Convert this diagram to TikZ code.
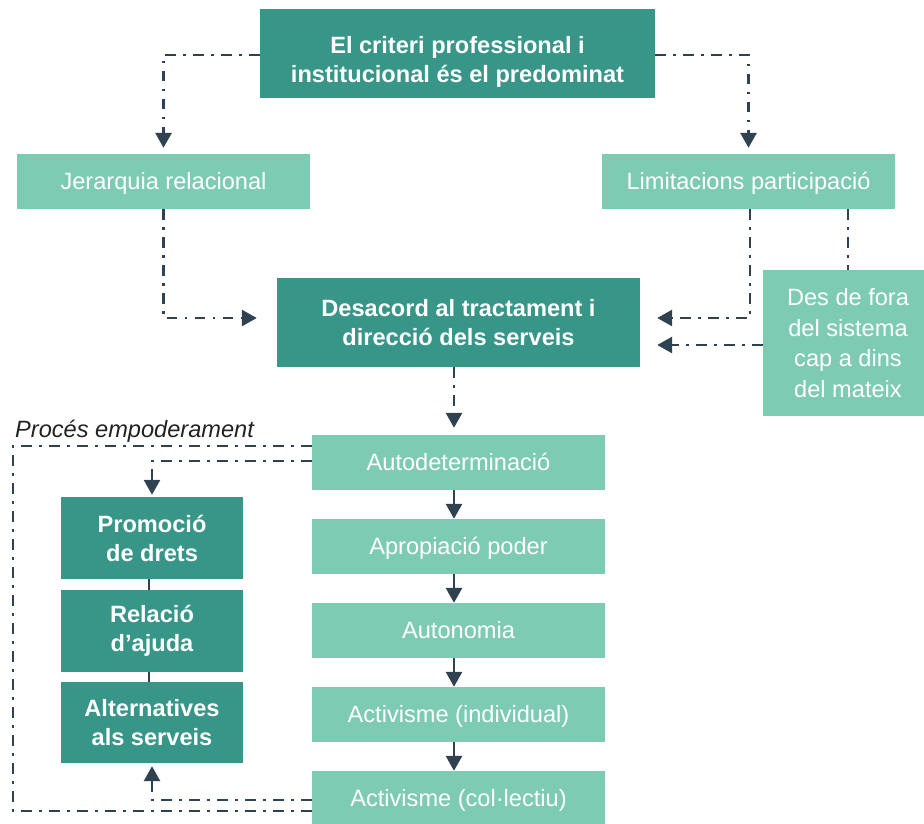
\documentclass[tikz,border=0pt]{standalone}
\usepackage{fontspec}
\setmainfont{Liberation Sans}
\usetikzlibrary{arrows.meta}
\definecolor{dk}{HTML}{379687}
\definecolor{lt}{HTML}{7ECBB4}
\definecolor{ln}{HTML}{2E4252}
\definecolor{tx}{HTML}{222222}
\tikzset{
  darkbox/.style={fill=dk, text=white, inner sep=0pt, align=center,
    font=\fontsize{23.6}{29}\selectfont\bfseries},
  lightbox/.style={fill=lt, text=white, inner sep=0pt, align=center,
    font=\fontsize{23.6}{30.5}\selectfont},
  onelinebox/.style={lightbox, minimum width=293pt, minimum height=55pt,
    text height=20.6pt, text depth=5pt},
  leftbox/.style={darkbox, minimum width=182pt, minimum height=82pt},
  conn/.style={draw=ln, line width=2.9pt, dash pattern=on 10.5pt off 7.5pt on 2.5pt off 7.5pt},
  solidconn/.style={draw=ln, line width=2.9pt},
  arr/.style={-{Triangle[width=16pt,length=15pt]}}
}
\begin{document}
\begin{tikzpicture}[x=1pt,y=-1pt]
\useasboundingbox (0,0) rectangle (924,823);
\begin{scope}
\clip (0,0) rectangle (924,823);
% nodes
\node[darkbox, minimum width=395pt, minimum height=89pt] (top) at (457.5,53.5) {};
\node[darkbox, fill=none] (toptext) at (457.5,61.5)
  {El criteri professional i\\institucional és el predominat};
\node[onelinebox] (jer) at (163.5,181.5) {Jerarquia relacional};
\node[onelinebox] (lim) at (748.5,181.5) {Limitacions participació};
\node[darkbox, minimum width=363pt, minimum height=89pt] (des) at (458.5,322.5)
  {Desacord al tractament i\\direcció dels serveis};
\node[lightbox, minimum width=170pt, minimum height=146pt] (fora) at (848,343)
  {Des de fora\\del sistema\\cap a dins\\del mateix};
\node[onelinebox] (aut) at (458.5,462.5) {Autodeterminació};
\node[onelinebox] (apr) at (458.5,546.5) {Apropiació poder};
\node[onelinebox] (aton) at (458.5,630.5) {Autonomia};
\node[onelinebox] (ind) at (458.5,714.5) {Activisme (individual)};
\node[onelinebox] (col) at (458.5,798.5) {Activisme (col·lectiu)};
\node[leftbox] (prom) at (152,538) {Promoció\\de drets};
\node[leftbox] (rel) at (152,631) {Relació\\d’ajuda};
\node[leftbox, minimum height=81pt] (alt) at (152,722.5) {Alternatives\\als serveis};
\node[anchor=base west, inner sep=0pt, text=tx, font=\fontsize{23.6}{28}\selectfont\itshape] (lbl) at (15,437)
  {Procés empoderament};
% connectors
\draw[conn, arr, shorten >=6pt] ([yshift=-1.5pt]top.west) -| (jer.north);
\draw[conn, arr, shorten >=6pt] ([yshift=-1.5pt]top.east) -| (lim.north);
\draw[conn, arr, shorten >=20pt] (jer.south) |- ([yshift=4.5pt]des.west);
\draw[conn, arr, shorten >=17pt] ([xshift=1.5pt]lim.south) |- ([yshift=4.5pt]des.east);
\draw[conn] (lim.south -| fora.north) -- (fora.north);
\draw[conn, arr, shorten >=17pt] ([yshift=-2pt]fora.west) -- ([yshift=-2pt]fora.west -| des.east);
\draw[conn, arr, shorten >=7pt] ([xshift=-4.5pt]des.south) -- ([xshift=-4.5pt]aut.north);
\draw[solidconn, arr] ([xshift=-4.5pt]aut.south) -- ([xshift=-4.5pt]apr.north);
\draw[solidconn, arr] ([xshift=-4.5pt]apr.south) -- ([xshift=-4.5pt]aton.north);
\draw[solidconn, arr] ([xshift=-4.5pt]aton.south) -- ([xshift=-4.5pt]ind.north);
\draw[solidconn, arr] ([xshift=-4.5pt]ind.south) -- ([xshift=-4.5pt]col.north);
% empowerment loop
\coordinate (lt) at (13,446);
\coordinate (lb) at (13,811);
\draw[conn] (lt -| aut.west) -- (lt) -- (lb) -- (lb -| col.west);
\draw[conn, arr, shorten >=2pt] ([yshift=1.5pt]aut.west) -| (prom.north);
\draw[conn, arr, shorten >=3pt] ([yshift=-1.5pt]col.west) -| (alt.south);
\draw[conn] ([xshift=-3pt]prom.south) -- ([xshift=-3pt]rel.north);
\draw[conn] ([xshift=-3pt]rel.south) -- ([xshift=-3pt]alt.north);
\end{scope}
\end{tikzpicture}
\end{document}
